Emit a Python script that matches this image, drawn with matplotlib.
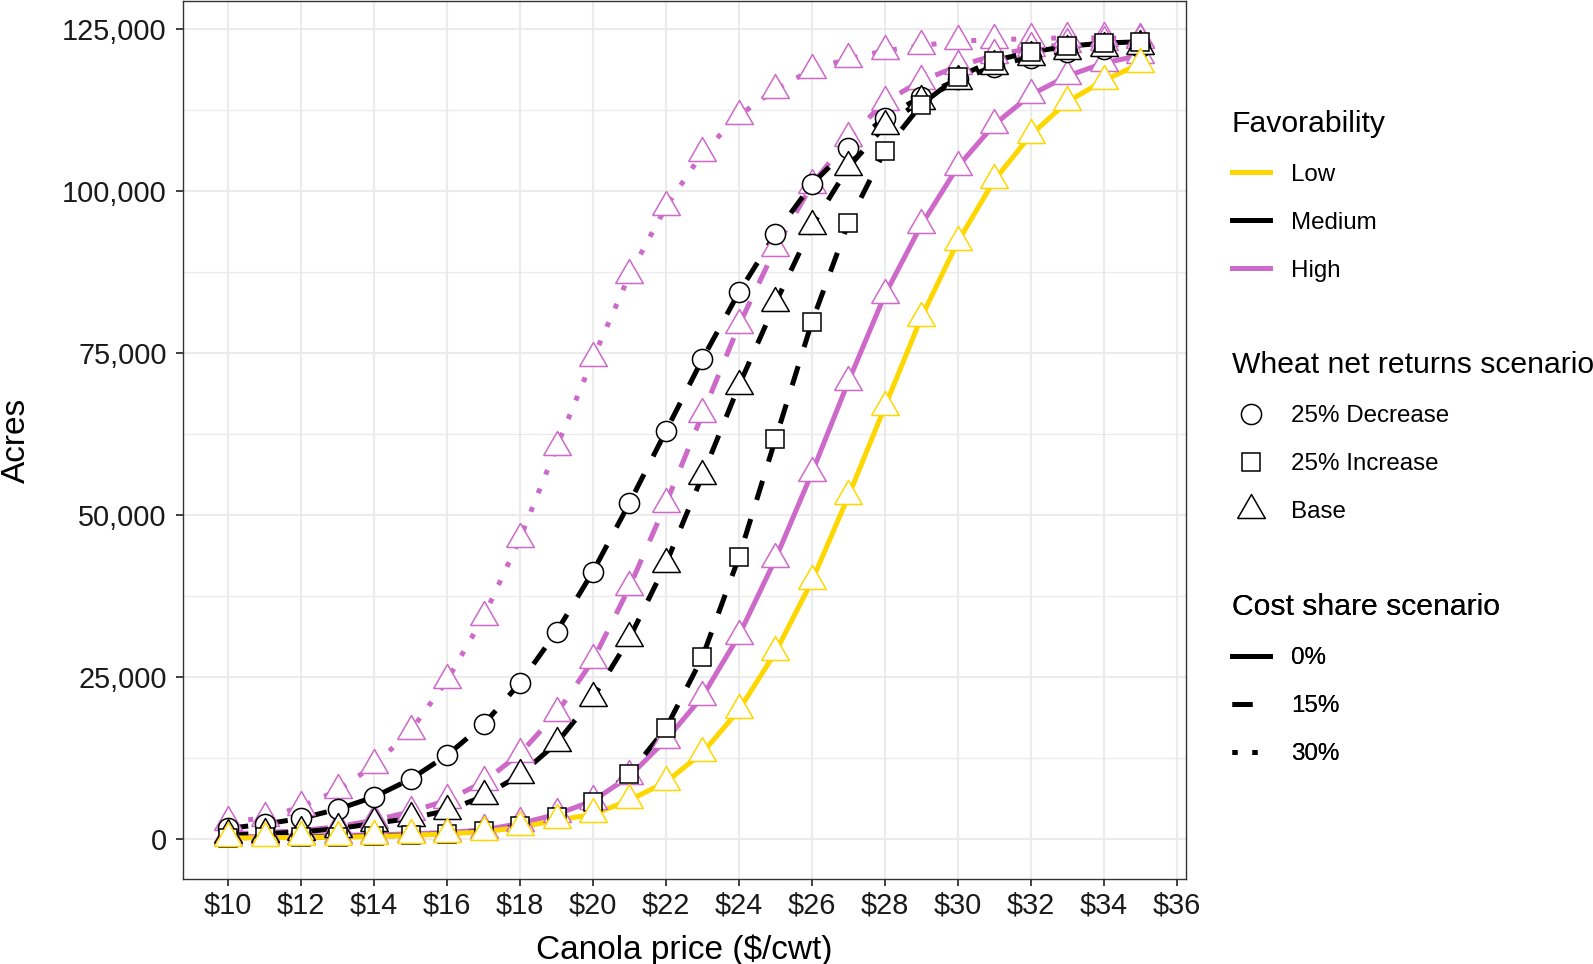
import matplotlib
matplotlib.use("Agg")
import matplotlib.pyplot as plt
from matplotlib.lines import Line2D
from matplotlib.ticker import FuncFormatter, MultipleLocator

plt.rcParams['font.family'] = ['Liberation Sans', 'DejaVu Sans']

# canola price, $/cwt
price = list(range(10, 36))

# acres by scenario
low_0_base = [150, 200, 250, 300, 400, 550, 800, 1100, 1800, 2900, 3800, 6000, 8800, 13300,
              19900, 28800, 39800, 52900, 66700, 80500, 92200, 101700, 108700, 113800, 117100, 119700]
high_0_base = [350, 400, 450, 550, 650, 800, 1000, 1400, 2400, 3800, 5900, 9700, 15300, 22000,
               31400, 43200, 56500, 70600, 84000, 94800, 103800, 110300, 114900, 117800, 119800, 121000]
high_15_base = [800, 1000, 1300, 1900, 2900, 4200, 6000, 8800, 13200, 19400, 27600, 38900, 51800, 65600,
                79300, 91200, 101000, 108200, 113800, 117100, 119300, 121000, 122100, 122700, 123000, 123300]
high_30_base = [2700, 3200, 5000, 7500, 11400, 16700, 24500, 34300, 46400, 60500, 74200, 87100, 97600, 105900,
                111700, 115700, 118800, 120500, 121700, 122500, 123200, 123400, 123600, 123700, 123700, 123600]
med_15_decrease = [1650, 2300, 3200, 4600, 6500, 9250, 12950, 17700, 24100, 32000, 41300, 51900, 63000, 74100,
                   84400, 93400, 101100, 106700, 111400, 114600, 117300, 119200, 120600, 121500, 122000, 122300]
med_15_base = [600, 800, 1100, 1600, 2400, 3200, 4400, 6600, 9900, 14800, 21800, 31000, 42500, 56100,
               70000, 82700, 94600, 103700, 110100, 114000, 117100, 119300, 120800, 121700, 122200, 122500]
med_15_increase = [200, 250, 300, 350, 450, 600, 800, 1200, 2000, 3400, 5700, 10100, 17100, 28100,
                   43500, 61700, 79800, 95100, 106300, 113400, 117700, 120200, 121500, 122400, 122900, 123100]

GOLD = '#FFD700'
ORCHID = '#CD69C9'
BLACK = 'black'

LW = 3.6
dash_styles = {'0%': '-', '15%': (0, (4, 4)), '30%': (0, (1, 3))}
tri = [(-0.866, -0.5), (0.866, -0.5), (0, 1), (-0.866, -0.5)]
shapes = {'25% Decrease': ('o', 14.5), '25% Increase': ('s', 13.5), 'Base': (tri, 23)}

# (values, favorability colour, cost share, wheat scenario)
series = [
    (high_30_base, ORCHID, '30%', 'Base'),
    (high_15_base, ORCHID, '15%', 'Base'),
    (high_0_base, ORCHID, '0%', 'Base'),
    (med_15_decrease, BLACK, '15%', '25% Decrease'),
    (med_15_base, BLACK, '15%', 'Base'),
    (med_15_increase, BLACK, '15%', '25% Increase'),
    (low_0_base, GOLD, '0%', 'Base'),
]

fig = plt.figure(figsize=(15.93, 9.64), dpi=100)
ax = fig.add_axes([0.1147, 0.0882, 0.6296, 0.9108])

for vals, col, cs, wh in series:
    ax.plot(price, vals, color=col, lw=LW, linestyle=dash_styles[cs],
            dash_capstyle='butt', solid_capstyle='butt', zorder=2)
for vals, col, cs, wh in series:
    m, ms = shapes[wh]
    ax.plot(price, vals, linestyle='none', marker=m, markersize=ms,
            markerfacecolor='white', markeredgecolor=col, markeredgewidth=1.1, zorder=3)

ax.set_xlim(8.75, 36.25)
ax.set_ylim(-6170, 129400)
ax.set_xticks(range(10, 37, 2))
ax.xaxis.set_major_formatter(FuncFormatter(lambda v, p: f"${int(v)}"))
ax.yaxis.set_major_locator(MultipleLocator(25000))
ax.yaxis.set_minor_locator(MultipleLocator(12500))
ax.yaxis.set_major_formatter(FuncFormatter(lambda v, p: f"{int(v):,}"))

ax.grid(True, which='major', color='#EBEBEB', lw=1.5, zorder=0)
ax.grid(True, which='minor', axis='y', color='#EBEBEB', lw=1.0, zorder=0)
ax.set_axisbelow(True)
for s in ax.spines.values():
    s.set_color('#333333')
    s.set_linewidth(1.0)
ax.tick_params(which='major', direction='out', length=5, width=1.3, color='#333333',
               labelsize=20.8, labelcolor='#1A1A1A')
ax.tick_params(axis='y', pad=6.5)
ax.tick_params(axis='x', pad=4)
ax.tick_params(which='minor', length=0)

ax.set_xlabel('Canola price ($/cwt)', fontsize=24, labelpad=11)
ax.set_ylabel('Acres', fontsize=24, labelpad=22)

# legends
def leg(handles, labels, title, top):
    lg = ax.legend(handles, labels, title=title, loc='upper left',
                   bbox_to_anchor=(1232 / 1593, 1 - top / 964), bbox_transform=fig.transFigure,
                   frameon=False, fontsize=17.4, title_fontsize=21.7, alignment='left',
                   handlelength=1.57, handletextpad=0.88, labelspacing=1.08, borderpad=0,
                   borderaxespad=0)
    ax.add_artist(lg)
    return lg

fav_h = [Line2D([], [], color=c, lw=LW) for c in (GOLD, BLACK, ORCHID)]
leg(fav_h, ['Low', 'Medium', 'High'], 'Favorability', 109.5)

shp_h = [Line2D([], [], linestyle='none', marker=shapes[k][0], markersize=shapes[k][1],
                markerfacecolor='white', markeredgecolor='black', markeredgewidth=1.1)
         for k in ('25% Decrease', '25% Increase', 'Base')]
leg(shp_h, ['25% Decrease', '25% Increase', 'Base'], 'Wheat net returns scenario', 351)

lt_h = [Line2D([], [], color='black', lw=LW, linestyle=dash_styles[k], dash_capstyle='butt')
        for k in ('0%', '15%', '30%')]
leg(lt_h, ['0%', '15%', '30%'], 'Cost share scenario', 593)

fig.savefig('out.png', dpi=100)
